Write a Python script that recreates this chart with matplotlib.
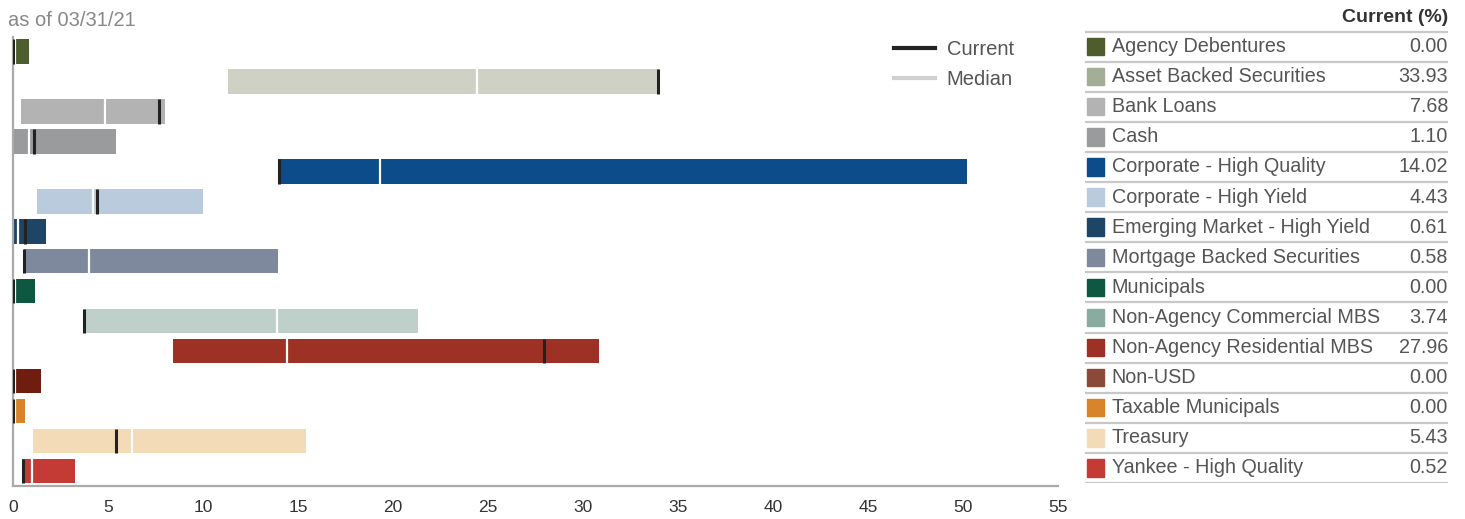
import matplotlib.pyplot as plt
from matplotlib.lines import Line2D

W, H = 1465, 519

sectors = ["Agency Debentures", "Asset Backed Securities", "Bank Loans", "Cash",
           "Corporate - High Quality", "Corporate - High Yield",
           "Emerging Market - High Yield", "Mortgage Backed Securities", "Municipals",
           "Non-Agency Commercial MBS", "Non-Agency Residential MBS", "Non-USD",
           "Taxable Municipals", "Treasury", "Yankee - High Quality"]
current = [0.00, 33.93, 7.68, 1.10, 14.02, 4.43, 0.61, 0.58, 0.00, 3.74, 27.96,
           0.00, 0.00, 5.43, 0.52]
median = [0.10, 24.40, 4.85, 0.85, 19.30, 4.20, 0.28, 4.00, 0.10, 13.90, 14.40,
          0.10, 0.10, 6.25, 1.00]
range_lo = [0.00, 11.30, 0.42, 0.00, 13.93, 1.26, 0.05, 0.58, 0.00, 3.74, 8.41,
            0.00, 0.00, 1.05, 0.47]
range_hi = [0.84, 34.00, 7.99, 5.41, 50.20, 9.98, 1.73, 13.93, 1.15, 21.30, 30.85,
            1.47, 0.63, 15.40, 3.26]
bar_colors = ["#4e5d2e", "#cfd1c5", "#b3b3b3", "#9a9b9c", "#0d4c8b", "#b9cbdd",
              "#1e4466", "#7f899d", "#0e5740", "#bfcfc9", "#9e3126", "#6e1d0e",
              "#d8842b", "#f3dbb8", "#c33b34"]
swatch_colors = ["#4e5d2e", "#a4ad95", "#b3b3b3", "#9a9b9c", "#0d4c8b", "#b9cbdd",
                 "#1e4466", "#7f899d", "#0e5740", "#8aab9f", "#9e3126", "#8b4a38",
                 "#d8842b", "#f3dbb8", "#c33b34"]
xticks = list(range(0, 60, 5))

plt.rcParams["font.family"] = ["Liberation Sans", "DejaVu Sans"]

fig = plt.figure(figsize=(W / 100, H / 100), dpi=100)

# range bars with median / current markers
ax = fig.add_axes([13 / W, (H - 486) / H, (1058 - 13) / W, (486 - 37) / H])
rows = list(range(len(sectors)))
ax.barh(rows, [h - l for l, h in zip(range_lo, range_hi)], left=range_lo,
        height=0.83, color=bar_colors, zorder=2)
ax.vlines(median, [r - 0.415 for r in rows], [r + 0.415 for r in rows],
          color="white", lw=1.6, zorder=3)
ax.vlines(current, [r - 0.415 for r in rows], [r + 0.415 for r in rows],
          color="#222222", lw=2.2, zorder=4)
ax.set_xlim(0, 55)
ax.set_ylim(14.5, -0.47)
ax.set_xticks(xticks)
ax.set_yticks([])
ax.tick_params(axis="x", length=0, pad=10, labelsize=12.5, labelcolor="#333333")
for s in ["top", "right"]:
    ax.spines[s].set_visible(False)
for s in ["left", "bottom"]:
    ax.spines[s].set_color("#aaaaaa")
    ax.spines[s].set_linewidth(1.6)

handles = [Line2D([], [], color="#222222", lw=3),
           Line2D([], [], color="#d0d0d0", lw=3)]
ax.legend(handles, ["Current", "Median"], loc="upper left",
          bbox_to_anchor=(0.826, 1.033), frameon=False, fontsize=14.5,
          handlelength=2.0, handletextpad=0.6, labelcolor="#555555",
          labelspacing=0.55)

fig.text(8 / W, 1 - 20 / H, "as of 03/31/21", fontsize=14.5, color="#888888",
         va="center", ha="left")

# table of current weights
tab = fig.add_axes([1085 / W, (H - 483) / H, (1448 - 1085) / W, 483 / H])
tab.set_xlim(0, 1)
tab.set_ylim(14.5, -1.547)
tab.axis("off")
tab.text(1.0, -0.98, "Current (%)", ha="right", va="center", fontsize=14,
         fontweight="bold", color="#333333")
tab.axhline(-0.5, color="#c8c8c8", lw=1.6)
for i, (name, val, col) in enumerate(zip(sectors, current, swatch_colors)):
    tab.add_patch(plt.Rectangle((0.006, i - 0.29), 0.047, 0.58, color=col))
    tab.text(0.074, i, name, ha="left", va="center", fontsize=14.2, color="#555555")
    tab.text(1.0, i, f"{val:.2f}", ha="right", va="center", fontsize=14.2,
             color="#555555")
    tab.axhline(i + 0.5, color="#c8c8c8", lw=1.6)

fig.savefig("out.png", dpi=100)
